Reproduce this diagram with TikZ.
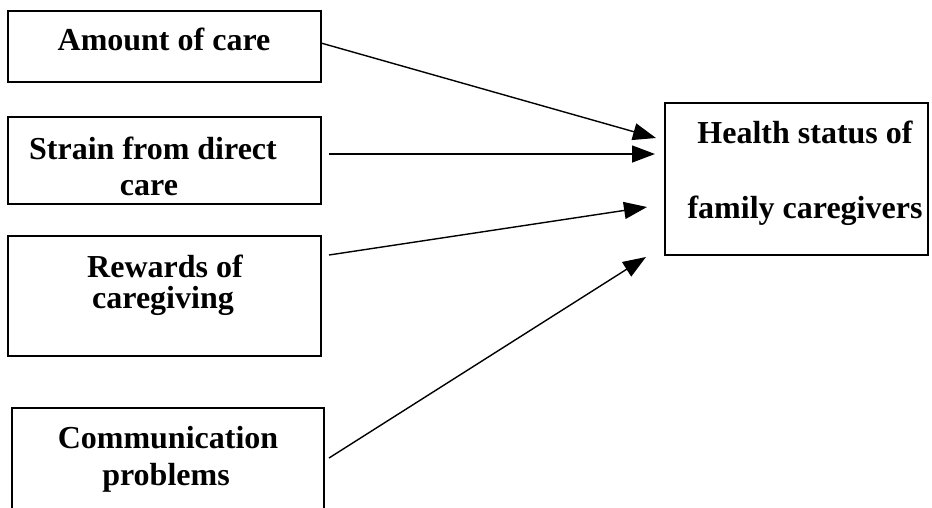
\documentclass[tikz,border=0pt]{standalone}
\usepackage{fontspec}
\setmainfont{Liberation Serif}
\usetikzlibrary{arrows.meta}
\begin{document}
\begin{tikzpicture}[x=1pt,y=-1pt,
  box/.style={draw, line width=1.8pt, rectangle, inner sep=0pt, outer sep=0pt},
  lbl/.style={anchor=base, inner sep=0pt, font=\fontsize{32}{38}\selectfont\bfseries},
  conn/.style={line width=1.4pt, -{Triangle[length=23pt,width=17pt]}}]
\clip (0,0) rectangle (932,507);
% boxes
\node[box, minimum width=313pt, minimum height=71pt] (b1) at (164.5,46.5) {};
\node[box, minimum width=313pt, minimum height=87pt] (b2) at (164.5,160.5) {};
\node[box, minimum width=313pt, minimum height=120pt] (b3) at (164.5,296) {};
\node[box, minimum width=312pt, minimum height=122pt] (b4) at (168,469) {};
\node[box, minimum width=263pt, minimum height=152pt] (h) at (796.5,179) {};
% labels
\node[lbl] (t1) at (164,50) {Amount of care};
\node[lbl] (t2a) at (153,159) {Strain from direct};
\node[lbl] (t2b) at (149,195) {care};
\node[lbl] (t3a) at (165,277) {Rewards of};
\node[lbl] (t3b) at (163,308) {caregiving};
\node[lbl] (t4a) at (168,448) {Communication};
\node[lbl] (t4b) at (166,485) {problems};
\node[lbl] (th1) at (805,143) {Health status of};
\node[lbl] (th2) at (805,218) {family caregivers};
% connector ends
\coordinate (s1) at (321,43);
\coordinate (e1) at (656,138);
\coordinate (s2) at (329,154);
\coordinate (e2) at (655,154);
\coordinate (s3) at (329,255);
\coordinate (e3) at (647,207);
\coordinate (s4) at (329,458);
\coordinate (e4) at (646,257);
\draw[conn] (s1) -- (e1);
\draw[conn] (s2) -- (e2);
\draw[conn] (s3) -- (e3);
\draw[conn] (s4) -- (e4);
\end{tikzpicture}
\end{document}
